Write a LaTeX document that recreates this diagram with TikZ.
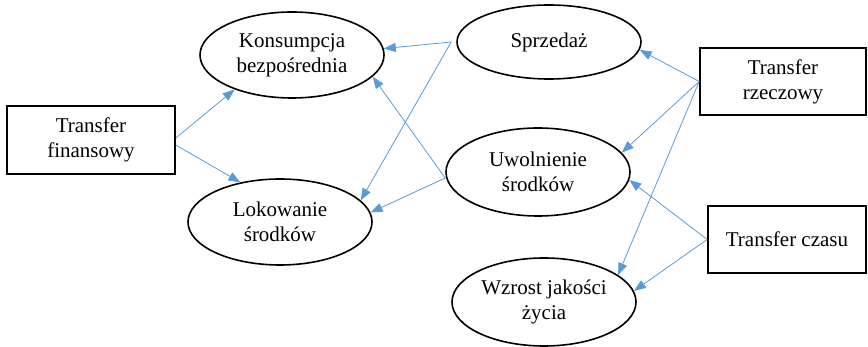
\documentclass[tikz,border=0pt]{standalone}
\usepackage{fontspec}
\setmainfont{Liberation Serif}
\newfontfamily\tnr{Liberation Serif}
\usetikzlibrary{shapes.geometric,arrows.meta}
\definecolor{arrblue}{RGB}{91,155,213}
\begin{document}
\begin{tikzpicture}[x=1pt,y=-1pt,
  every node/.style={font=\tnr\fontsize{21}{25}\selectfont, align=center},
  oval/.style={ellipse, draw=black, line width=1.6pt, minimum width=184pt, minimum height=86pt, inner sep=0pt},
  boxnode/.style={rectangle, draw=black, line width=1.6pt, inner sep=0pt},
  arr/.style={draw=arrblue, line width=0.8pt, -{Triangle[length=12pt,width=9pt]}, arrblue}
]
\useasboundingbox (0,0) rectangle (868,347);
\node[boxnode, minimum width=168pt, minimum height=68pt] (tf) at (91,140) {Transfer\\finansowy};
\node[boxnode, minimum width=166pt, minimum height=67pt] (tr) at (783,81.5) {Transfer\\rzeczowy};
\node[boxnode, minimum width=158pt, minimum height=67pt] (tc) at (787,239.5) {Transfer czasu};
\node[oval] (kons) at (292,55) {Konsumpcja\\bezpośrednia};
\node[oval] (lok) at (280,222) {Lokowanie\\środków};
\node[oval, minimum height=74pt] (sprz) at (549,42) {Sprzedaż};
\node[oval, minimum height=88pt] (uwol) at (538,172) {Uwolnienie\\środków};
\node[oval, minimum height=88pt] (wzr) at (544,302) {Wzrost jakości\\życia};
\coordinate (sprzA) at ([xshift=-5pt]sprz.west);
\coordinate (uwolA) at ([yshift=-6pt]uwol.west);
\draw[arr] ([yshift=2pt]tf.east) -- (kons.211);
\draw[arr] ([yshift=-5pt]tf.east) -- (lok.135);
\draw[arr] (sprzA) -- (kons.4);
\draw[arr] (sprzA) -- (lok.15);
\draw[arr] (uwolA) -- (lok.6);
\draw[arr] (uwolA) -- (kons.345);
\draw[arr] (tr.west) -- (sprz.355);
\draw[arr] (tr.west) -- (uwol.13);
\draw[arr] (tr.west) -- (wzr.20);
\draw[arr] (tc.west) -- (uwol.355);
\draw[arr] (tc.west) -- (wzr.7.5);
\end{tikzpicture}
\end{document}
